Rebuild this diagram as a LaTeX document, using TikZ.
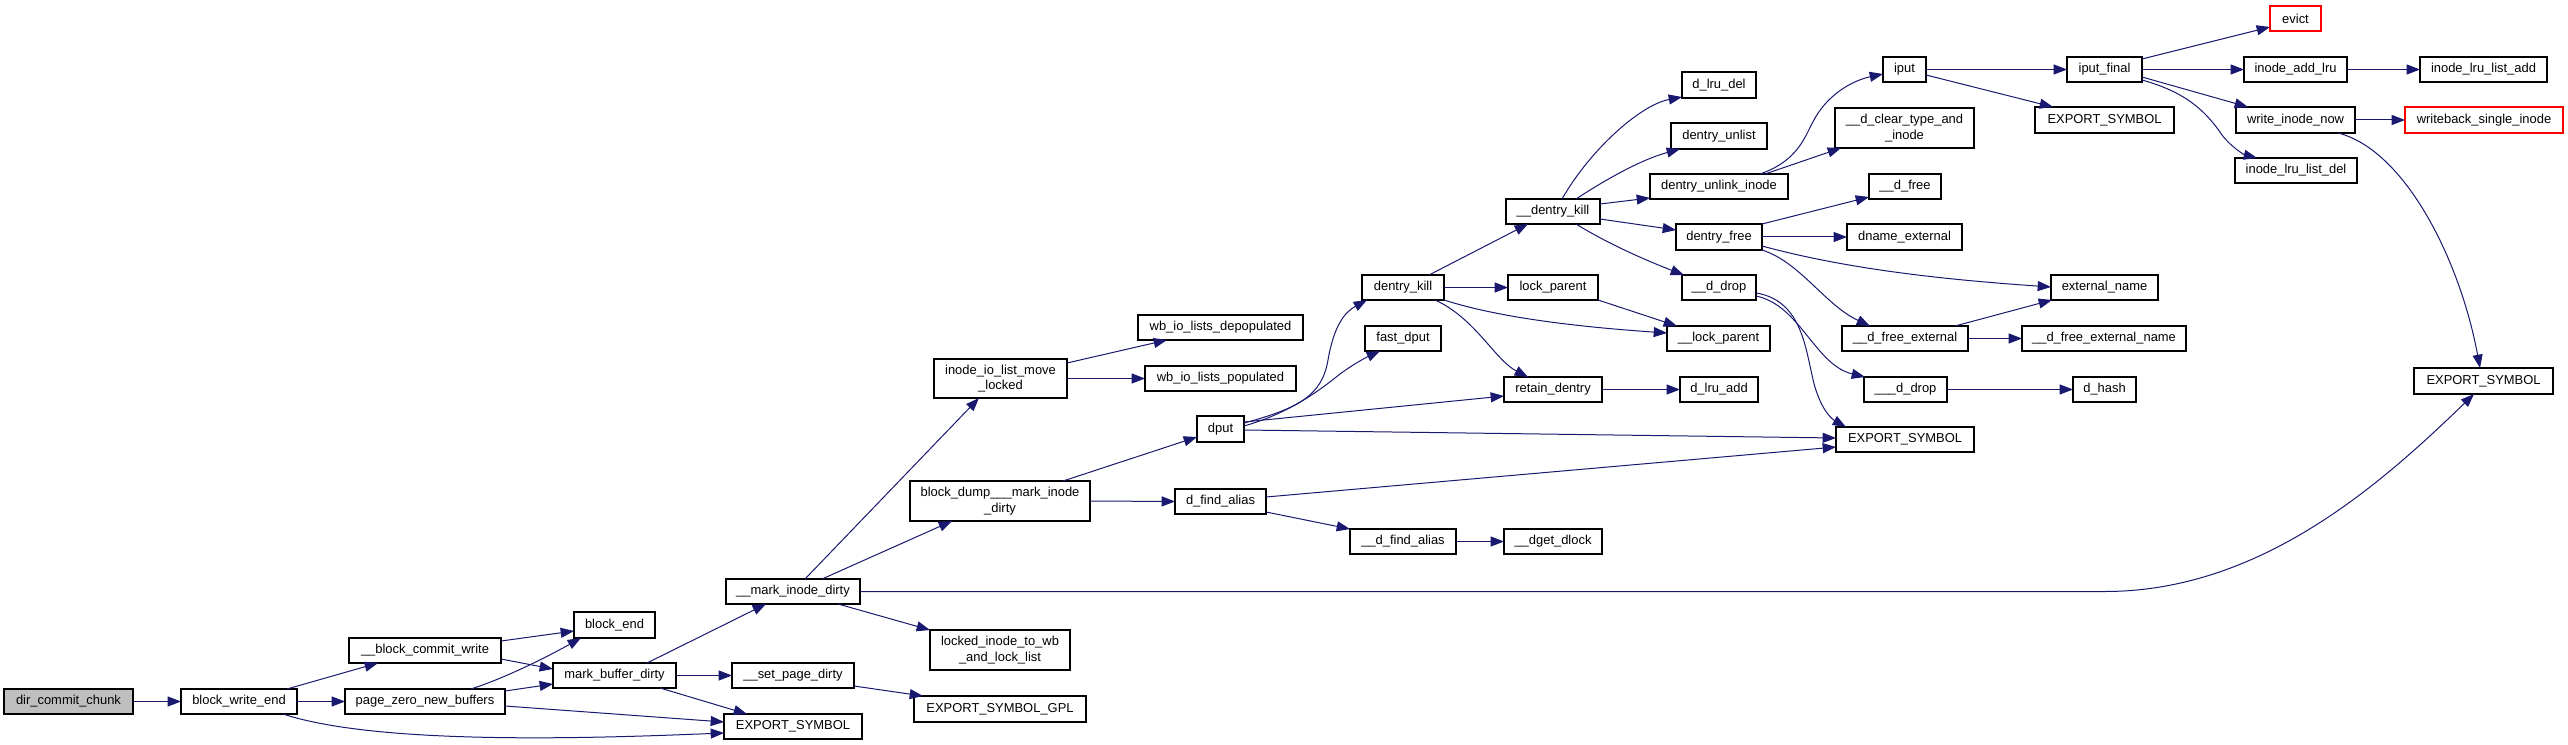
\documentclass[tikz,border=0pt]{standalone}
\usepackage{fontspec}
\setmainfont{Liberation Sans}
\usetikzlibrary{arrows.meta}
\definecolor{navy}{RGB}{25,25,112}
\definecolor{nodegray}{RGB}{191,191,191}
\tikzset{
  box/.style={draw=black, line width=0.9pt, fill=white, inner sep=0pt, outer sep=0pt, align=center,
     font=\fontsize{9.7}{11.5}\selectfont},
  redbox/.style={draw=red},
  rootbox/.style={fill=nodegray},
  e/.style={draw=navy, line width=0.75pt, -{Triangle[length=10pt,width=7.5pt]}}
}
\newcommand{\bx}[7][]{\node[box,#1,minimum width={(#4-#2)*0.75pt},minimum height={(#5-#3)*0.75pt}] (#6) at ({(#2+#4)/2},{(#3+#5)/2}) {#7};}
\begin{document}
\begin{tikzpicture}[x=0.75pt,y=-0.75pt]
\useasboundingbox[fill=white] (0,0) rectangle (2568,745);
% nodes
\bx[rootbox]{4}{689}{133}{714}{dcc}{dir\_commit\_chunk}
\bx{181}{689}{297}{714}{bwe}{block\_write\_end}
\bx{349}{638}{501}{663}{bcw}{\_\_block\_commit\_write}
\bx{345}{689}{505}{714}{pznb}{page\_zero\_new\_buffers}
\bx{574}{612}{655}{638}{bend}{block\_end}
\bx{553}{663}{676}{688}{mbd}{mark\_buffer\_dirty}
\bx{724}{714}{862}{739}{esa}{EXPORT\_SYMBOL}
\bx{732}{663}{854}{688}{spd}{\_\_set\_page\_dirty}
\bx{914}{696}{1086}{722}{esgpl}{EXPORT\_SYMBOL\_GPL}
\bx{726}{579}{860}{604}{mid}{\_\_mark\_inode\_dirty}
\bx{930}{630}{1070}{670}{lwb}{locked\_inode\_to\_wb\\\_and\_lock\_list}
\bx{934}{359}{1067}{398}{iolml}{inode\_io\_list\_move\\\_locked}
\bx{1138}{315}{1303}{340}{wbdep}{wb\_io\_lists\_depopulated}
\bx{1145}{366}{1296}{391}{wbpop}{wb\_io\_lists\_populated}
\bx{910}{481}{1090}{521}{bdump}{block\_dump\_\_\_mark\_inode\\\_dirty}
\bx{1197}{416}{1244}{442}{dput}{dput}
\bx{1175}{489}{1266}{514}{dfa}{d\_find\_alias}
\bx{1350}{529}{1456}{554}{udfa}{\_\_d\_find\_alias}
\bx{1504}{529}{1602}{554}{dget}{\_\_dget\_dlock}
\bx{1362}{275}{1444}{300}{dkill}{dentry\_kill}
\bx{1365}{326}{1441}{351}{fdput}{fast\_dput}
\bx{1504}{377}{1602}{402}{rden}{retain\_dentry}
\bx{1508}{275}{1598}{300}{lockp}{lock\_parent}
\bx{1667}{326}{1770}{351}{ulockp}{\_\_lock\_parent}
\bx{1680}{377}{1758}{402}{dlruadd}{d\_lru\_add}
\bx{1836}{427}{1974}{452}{esb}{EXPORT\_SYMBOL}
\bx{1506}{199}{1600}{224}{udkill}{\_\_dentry\_kill}
\bx{1682}{72}{1756}{98}{dlrudel}{d\_lru\_del}
\bx{1671}{123}{1767}{149}{dunlist}{dentry\_unlist}
\bx{1650}{174}{1788}{199}{dunlink}{dentry\_unlink\_inode}
\bx{1676}{224}{1762}{250}{dfree}{dentry\_free}
\bx{1682}{275}{1756}{300}{uddrop}{\_\_d\_drop}
\bx{1883}{57}{1926}{82}{iput}{iput}
\bx{1835}{108}{1974}{148}{dclear}{\_\_d\_clear\_type\_and\\\_inode}
\bx{1869}{174}{1941}{199}{udfree}{\_\_d\_free}
\bx{1847}{224}{1962}{250}{dname}{dname\_external}
\bx{1842}{326}{1968}{351}{udfe}{\_\_d\_free\_external}
\bx{1864}{377}{1947}{402}{uuddrop}{\_\_\_d\_drop}
\bx{2067}{57}{2142}{82}{iputf}{iput\_final}
\bx{2035}{107}{2174}{133}{esc}{EXPORT\_SYMBOL}
\bx{2051}{275}{2158}{300}{extn}{external\_name}
\bx{2022}{326}{2186}{351}{udfen}{\_\_d\_free\_external\_name}
\bx{2073}{377}{2136}{402}{dhash}{d\_hash}
\bx[redbox]{2270}{6}{2321}{31}{evict}{evict}
\bx{2244}{57}{2347}{82}{iaddlru}{inode\_add\_lru}
\bx{2236}{107}{2355}{133}{iwn}{write\_inode\_now}
\bx{2235}{158}{2357}{183}{ilrudel}{inode\_lru\_list\_del}
\bx{2420}{57}{2547}{82}{ilruadd}{inode\_lru\_list\_add}
\bx[redbox]{2405}{107}{2563}{133}{wsi}{writeback\_single\_inode}
\bx{2414}{368}{2553}{394}{esd}{EXPORT\_SYMBOL}
% edges
\draw[e] (dcc.east) -- (bwe.west);
\draw[e] (bwe.north -| 287,0) -- (bcw.south -| 378,0);
\draw[e] (bwe.east) -- (pznb.west);
\draw[e] (bwe.south -| 283,0) .. controls (380,746) and (600,738) .. (esa.west |- 0,733);
\draw[e] (bcw.east |- 0,641) -- (bend.west |- 0,631);
\draw[e] (bcw.east |- 0,659) -- (mbd.west |- 0,669);
\draw[e] (pznb.north -| 471,0) .. controls (505,678) and (545,658) .. (bend.south -| 581,0);
\draw[e] (pznb.east |- 0,691) -- (mbd.west |- 0,684);
\draw[e] (pznb.east |- 0,706) -- (esa.west |- 0,722);
\draw[e] (mbd.north -| 647,0) -- (mid.south -| 766,0);
\draw[e] (mbd.east) -- (spd.west);
\draw[e] (mbd.south -| 660,0) -- (esa.north -| 747,0);
\draw[e] (spd.east |- 0,686) -- (esgpl.north -| 923,0);
\draw[e] (mid.north -| 805,0) -- (iolml.south -| 979,0);
\draw[e] (mid.north -| 822,0) -- (bdump.south -| 952,0);
\draw[e] (mid.south -| 838,0) -- (lwb.north west);
\draw[e] (mid.east) -- (2105,591.5) .. controls (2260,591.5) and (2380,485) .. (esd.south -| 2474,0);
\draw[e] (iolml.east |- 0,363) -- (wbdep.south -| 1167,0);
\draw[e] (iolml.east) -- (wbpop.west);
\draw[e] (bdump.north -| 1063,0) -- (dput.west |- 0,437);
\draw[e] (bdump.east) -- (dfa.west);
\draw[e] (dput.east |- 0,423) .. controls (1300,408) and (1322,395) .. (1328,360) .. controls (1334,325) and (1345,312) .. (dkill.south -| 1367,0);
\draw[e] (dput.east |- 0,426) .. controls (1290,413) and (1320,390) .. (1340,374) .. controls (1355,363) and (1367,357) .. (fdput.south -| 1380,0);
\draw[e] (dput.east |- 0,422) -- (rden.west |- 0,396);
\draw[e] (dput.east |- 0,430) -- (esb.west |- 0,438);
\draw[e] (dfa.east |- 0,497) -- (esb.west |- 0,447);
\draw[e] (dfa.east |- 0,512) -- (udfa.north west);
\draw[e] (udfa.east) -- (dget.west);
\draw[e] (dkill.north -| 1429,0) -- (udkill.south -| 1528,0);
\draw[e] (dkill.east) -- (lockp.west);
\draw[e] (dkill.east |- 0,300) .. controls (1500,318) and (1580,327) .. (ulockp.west |- 0,333);
\draw[e] (dkill.south -| 1435,0) .. controls (1475,318) and (1495,360) .. (rden.north -| 1528,0);
\draw[e] (lockp.south east) -- (ulockp.north -| 1677,0);
\draw[e] (rden.east) -- (dlruadd.west);
\draw[e] (udkill.north -| 1562,0) .. controls (1590,150) and (1640,105) .. (dlrudel.west |- 0,97);
\draw[e] (udkill.north -| 1576,0) .. controls (1605,180) and (1640,160) .. (dunlist.south -| 1680,0);
\draw[e] (udkill.east |- 0,204) -- (dunlink.west |- 0,198);
\draw[e] (udkill.east |- 0,219) -- (dfree.west |- 0,230);
\draw[e] (udkill.south -| 1576,0) .. controls (1610,245) and (1650,262) .. (uddrop.north -| 1684,0);
\draw[e] (dunlink.north -| 1760,0) .. controls (1800,160) and (1805,135) .. (1815,118) .. controls (1830,92) and (1855,80) .. (iput.west |- 0,74);
\draw[e] (dunlink.north -| 1765,0) -- (dclear.south -| 1841,0);
\draw[e] (dfree.north east) -- (udfree.west |- 0,197);
\draw[e] (dfree.east) -- (dname.west);
\draw[e] (dfree.east |- 0,246) .. controls (1850,270) and (1950,280) .. (extn.west |- 0,287);
\draw[e] (dfree.south east) .. controls (1800,262) and (1825,305) .. (udfe.north -| 1870,0);
\draw[e] (uddrop.east |- 0,296) .. controls (1800,305) and (1815,365) .. (uuddrop.north -| 1865,0);
\draw[e] (uddrop.east |- 0,293) .. controls (1800,300) and (1805,345) .. (1812,375) .. controls (1818,405) and (1830,418) .. (esb.north -| 1846,0);
\draw[e] (udfe.north -| 1955,0) -- (extn.south -| 2052,0);
\draw[e] (udfe.east) -- (udfen.west);
\draw[e] (uuddrop.east) -- (dhash.west);
\draw[e] (iput.east) -- (iputf.west);
\draw[e] (iput.east |- 0,75) -- (esc.north -| 2053,0);
\draw[e] (iputf.east |- 0,59) -- (evict.west |- 0,27);
\draw[e] (iputf.east) -- (iaddlru.west);
\draw[e] (iputf.east |- 0,77) -- (iwn.north -| 2248,0);
\draw[e] (iputf.east |- 0,80) .. controls (2185,92) and (2205,110) .. (2222,135) .. controls (2232,148) and (2245,155) .. (ilrudel.north -| 2257,0);
\draw[e] (iaddlru.east) -- (ilruadd.west);
\draw[e] (iwn.east) -- (wsi.west);
\draw[e] (iwn.south -| 2338,0) .. controls (2405,150) and (2460,260) .. (esd.north -| 2480,0);
\end{tikzpicture}
\end{document}
